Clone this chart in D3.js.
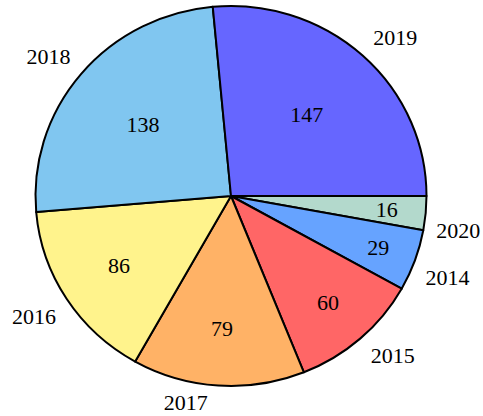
<!DOCTYPE html>
<html>
<head>
<meta charset="utf-8">
<script src="https://cdn.jsdelivr.net/npm/d3@7"></script>
<style>
  body { margin: 0; background: #fff; }
  svg { display: block; }
  text { font-family: 'Liberation Serif', 'Times New Roman', Times, serif; }
</style>
</head>
<body>
<div class="chart"></div>
<script>
// Données (ordre horaire à partir de 3 heures)
const years = ["2020", "2014", "2015", "2017", "2016", "2018", "2019"];
const counts = [16, 29, 60, 79, 86, 138, 147];
const colors = ["#b3d9cc", "#66a3ff", "#ff6666", "#ffb266", "#fff38c", "#80c6f0", "#6666ff"];

const width = 483, height = 416;
const cx = 231, cy = 196;
const rx = 195.5, ry = 190; // la tarte est légèrement aplatie
const fontSize = 22;

const data = years.map((y, i) => ({ year: y, value: counts[i], color: colors[i] }));

const svg = d3.select('.chart').append('svg')
    .attr('width', width)
    .attr('height', height);

const pie = d3.pie()
    .sort(null)
    .value(d => d.value)
    .startAngle(Math.PI / 2)
    .endAngle(Math.PI / 2 + 2 * Math.PI);

const arcs = pie(data);
const arc = d3.arc().innerRadius(0).outerRadius(rx);

// les parts
svg.append('g')
    .attr('transform', `translate(${cx},${cy}) scale(1,${ry / rx})`)
    .selectAll('path')
    .data(arcs)
    .join('path')
    .attr('d', arc)
    .attr('fill', d => d.data.color)
    .attr('stroke', '#000')
    .attr('stroke-width', 2)
    .attr('vector-effect', 'non-scaling-stroke')
    .attr('stroke-linejoin', 'round');

// point sur l'ellipse pour un angle d3 (0 = nord, sens horaire)
function pointAt(angle, k) {
    return [cx + k * rx * Math.sin(angle), cy - k * ry * Math.cos(angle)];
}

// valeurs à l'intérieur
svg.append('g').selectAll('text')
    .data(arcs)
    .join('text')
    .each(function (d) {
        const mid = (d.startAngle + d.endAngle) / 2;
        const half = (d.endAngle - d.startAngle) / 2;
        const s = Math.sin(Math.min(half, Math.PI / 2));
        const rCenter = Math.min(0.8, 1 - s / (1 + s));
        const [x, y] = pointAt(mid, rCenter);
        d3.select(this)
            .attr('x', x)
            .attr('y', y + fontSize * 0.33);
    })
    .attr('text-anchor', 'middle')
    .style('font-size', fontSize + 'px')
    .attr('fill', '#000')
    .text(d => d.data.value);

// années à l'extérieur
svg.append('g').selectAll('text')
    .data(arcs)
    .join('text')
    .each(function (d) {
        const mid = (d.startAngle + d.endAngle) / 2;
        const [x, y] = pointAt(mid, 1);
        const right = Math.sin(mid) >= 0;
        const down = -Math.cos(mid) >= 0;
        d3.select(this)
            .attr('x', right ? x + 10.5 : x - 10.5)
            .attr('y', y + (down ? 17.5 : -17.5) + fontSize * 0.33)
            .attr('text-anchor', right ? 'start' : 'end');
    })
    .style('font-size', fontSize + 'px')
    .attr('fill', '#000')
    .text(d => d.data.year);
</script>
</body>
</html>
